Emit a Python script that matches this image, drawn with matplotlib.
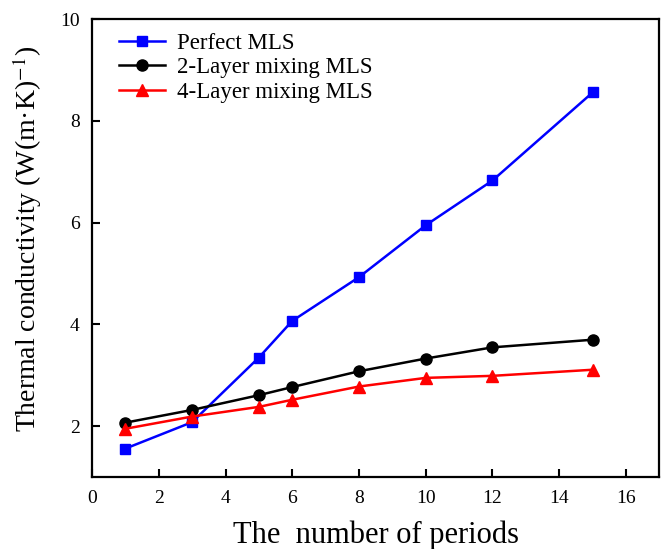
import matplotlib
matplotlib.use("Agg")
import matplotlib.pyplot as plt
import numpy as np

periods = [1, 3, 5, 6, 8, 10, 12, 15]
perfect = [1.56, 2.08, 3.35, 4.07, 4.93, 5.95, 6.83, 8.56]
mix2 = [2.07, 2.32, 2.61, 2.77, 3.08, 3.33, 3.55, 3.70]
mix4 = [1.95, 2.19, 2.38, 2.52, 2.78, 2.95, 2.99, 3.11]

plt.rcParams['font.family'] = ['Liberation Serif', 'DejaVu Serif']
plt.rcParams['mathtext.fontset'] = 'stix'

fig = plt.figure(figsize=(6.62, 5.49), dpi=100)
ax = fig.add_axes([0.139, 0.131, 0.857, 0.834])

ax.plot(periods, perfect, '-s', color='#0000ff', lw=1.8, ms=7, label='Perfect MLS')
ax.plot(periods, mix2, '-o', color='black', lw=1.8, ms=8, label='2-Layer mixing MLS')
ax.plot(periods, mix4, '-^', color='#ff0000', lw=1.8, ms=8, label='4-Layer mixing MLS')

ax.set_xlim(0, 17)
ax.set_ylim(1, 10)
ax.set_xticks(np.arange(0, 17, 2))
ax.set_yticks(np.arange(2, 11, 2))
ax.tick_params(direction='in', length=6, width=1.5, labelsize=14, pad=9)
for s in ax.spines.values():
    s.set_linewidth(1.6)

ax.set_xlabel('The  number of periods', fontsize=22, labelpad=10)
ax.set_ylabel('Thermal conductivity (W(m\u00b7K)$^{-1}$)', fontsize=20)
ax.yaxis.set_label_coords(-0.085, 0.52)

ax.legend(loc='upper left', frameon=False, fontsize=16.5, handlelength=2.0,
          bbox_to_anchor=(0.024, 1.0), borderaxespad=0.2, labelspacing=0.15,
          handletextpad=0.5, borderpad=0.4)

fig.savefig('out.png')
